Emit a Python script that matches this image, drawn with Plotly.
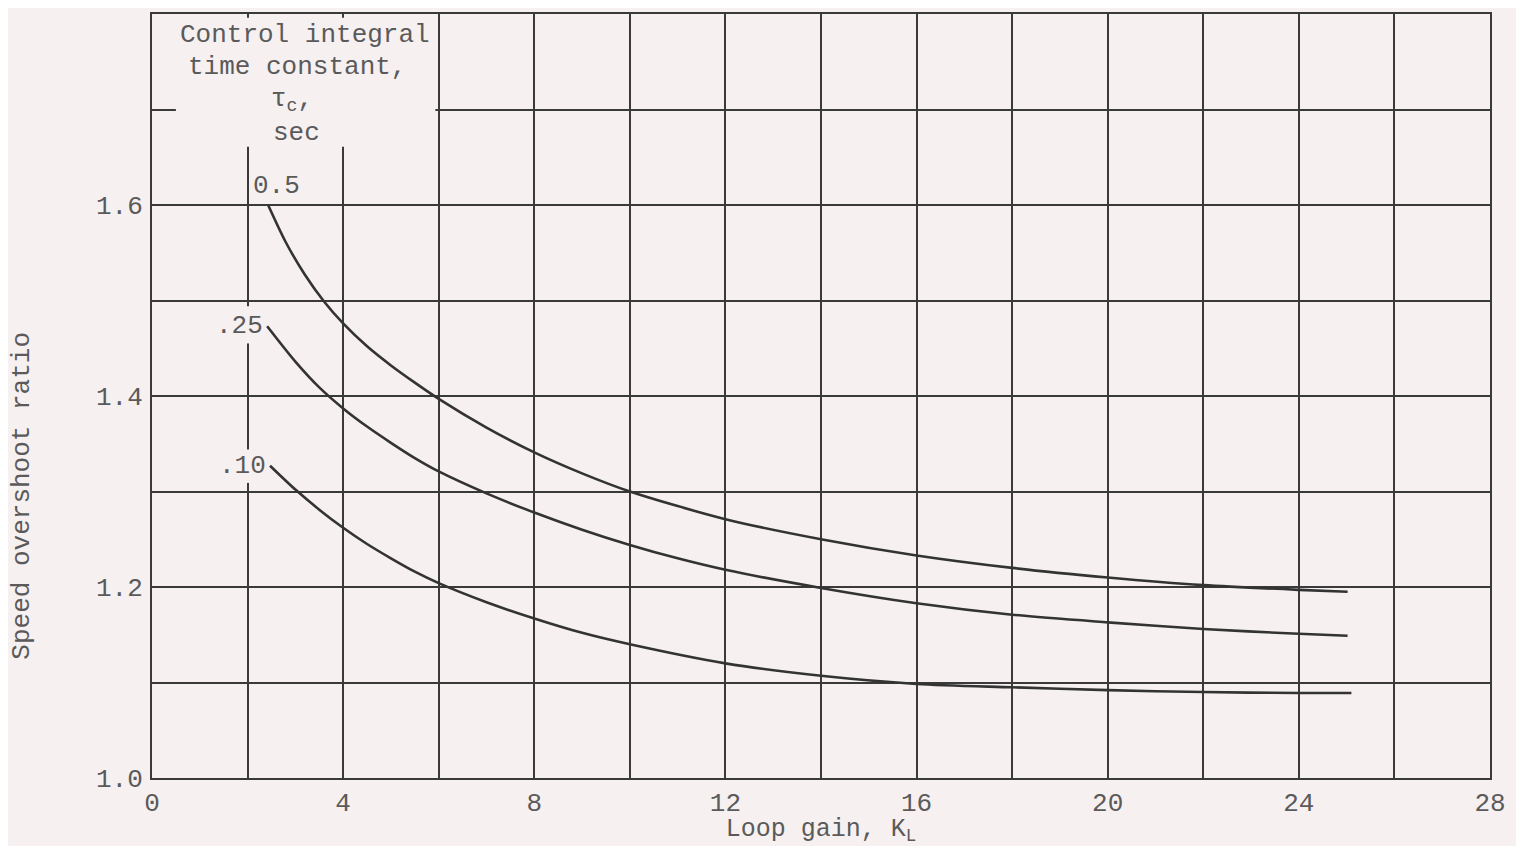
import plotly.graph_objects as go

# values
kl_050 = [2.43, 2.8, 3.2, 3.6, 4.0, 4.5, 5, 5.5, 6, 7, 8, 9, 10, 12, 14, 16, 18, 20, 22, 24, 25.02]
ov_050 = [1.600, 1.561, 1.527, 1.499, 1.476, 1.452, 1.432, 1.414, 1.397, 1.367, 1.341, 1.319,
          1.300, 1.271, 1.250, 1.233, 1.220, 1.210, 1.202, 1.197, 1.195]

kl_025 = [2.41, 3.0, 3.5, 4.0, 4.5, 5, 5.5, 6, 7, 8, 9, 10, 11, 12, 14, 16, 18, 20, 22, 24, 25.02]
ov_025 = [1.473, 1.436, 1.409, 1.387, 1.368, 1.351, 1.335, 1.321, 1.298, 1.278, 1.260, 1.244,
          1.230, 1.218, 1.199, 1.183, 1.171, 1.163, 1.156, 1.151, 1.149]

kl_010 = [2.47, 3.0, 3.5, 4, 4.5, 5, 5.5, 6, 7, 8, 9, 10, 12, 14, 16, 18, 20, 22, 24, 25.1]
ov_010 = [1.327, 1.302, 1.281, 1.262, 1.245, 1.230, 1.216, 1.204, 1.184, 1.167, 1.152, 1.140,
          1.120, 1.107, 1.0985, 1.095, 1.092, 1.090, 1.089, 1.089]

curve_labels = ["0.5", ".25", ".10"]

x_ticks = list(range(0, 29, 2))
x_text = [str(v) if v % 4 == 0 else "" for v in x_ticks]
y_ticks = [1.0, 1.1, 1.2, 1.3, 1.4, 1.5, 1.6, 1.7, 1.8]
y_text = ["1.0", "", "1.2", "", "1.4", "", "1.6", "", ""]

bg = "#f6f0f1"
ink = "#3a3a3a"
txt = "#5a5a5a"
FONT = "Liberation Mono"

fig = go.Figure()
for xs, ys in [(kl_050, ov_050), (kl_025, ov_025), (kl_010, ov_010)]:
    fig.add_trace(go.Scatter(x=xs, y=ys, mode="lines",
                             line=dict(color="#333333", width=2.6, shape="spline", smoothing=0.8),
                             showlegend=False, hoverinfo="skip"))

# blank patches over the grid (legend box and curve labels)
fig.add_shape(type="rect", x0=0.5, x1=5.93, y0=1.661, y1=1.796, layer="between",
              fillcolor=bg, line_width=0)
fig.add_shape(type="rect", x0=1.8, x1=2.2, y0=1.455, y1=1.494, layer="between",
              fillcolor=bg, line_width=0)
fig.add_shape(type="rect", x0=1.8, x1=2.2, y0=1.309, y1=1.344, layer="between",
              fillcolor=bg, line_width=0)

# legend heading
for t, xx, yy in [("Control integral", 3.2, 1.778),
                  ("time constant,", 3.03, 1.745),
                  ("τ<sub>c</sub>,", 2.93, 1.710),
                  ("sec", 3.03, 1.675)]:
    fig.add_annotation(x=xx, y=yy, text=t, showarrow=False,
                       font=dict(family=FONT, size=26, color=txt))

# curve labels
for t, xx, yy in zip(curve_labels, [2.61, 1.84, 1.90], [1.620, 1.473, 1.327]):
    fig.add_annotation(x=xx, y=yy, text=t, showarrow=False,
                       font=dict(family=FONT, size=26, color=txt))

# y-axis title
fig.add_annotation(xref="paper", yref="paper", x=-0.0972, y=0.3695, xanchor="center",
                   yanchor="middle", text="Speed overshoot ratio", textangle=-90,
                   showarrow=False, font=dict(family=FONT, size=26, color=txt))

fig.update_xaxes(range=[0, 28], tickvals=x_ticks, ticktext=x_text, showgrid=True,
                 gridcolor=ink, gridwidth=1.6, zeroline=False, showline=True, mirror=True,
                 linecolor=ink, linewidth=2, ticks="", ticklabelstandoff=0,
                 tickfont=dict(family=FONT, size=26, color=txt),
                 title=dict(text="Loop gain, K<sub>L</sub>", standoff=0,
                            font=dict(family=FONT, size=25, color=txt)))
fig.update_yaxes(range=[1.0, 1.8], tickvals=y_ticks, ticktext=y_text, showgrid=True,
                 gridcolor=ink, gridwidth=1.6, zeroline=False, showline=True, mirror=True,
                 linecolor=ink, linewidth=2, ticks="", ticklabelstandoff=2,
                 tickfont=dict(family=FONT, size=26, color=txt))

# page body adds an 8px margin, so the figure is a little smaller than the window
fig.update_layout(width=1508, height=838, paper_bgcolor=bg, plot_bgcolor=bg,
                  margin=dict(l=144, r=26, t=4, b=68), showlegend=False)

fig.write_html("out.html")
